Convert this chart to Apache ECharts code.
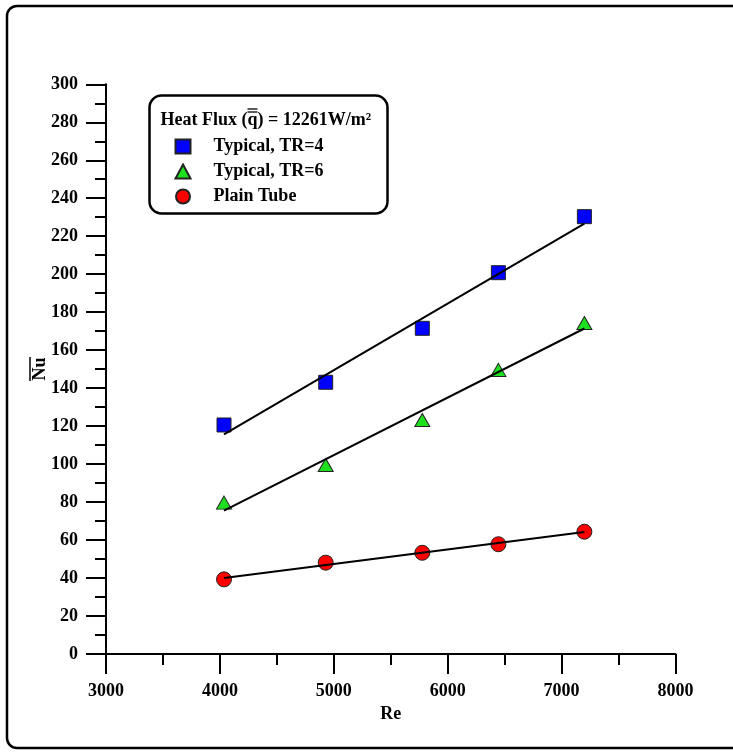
<!DOCTYPE html>
<html><head><meta charset="utf-8">
<script src="https://cdn.jsdelivr.net/npm/echarts@6/dist/echarts.min.js"></script>
<style>html,body{margin:0;padding:0;background:#fff}#c{width:733px;height:756px}</style>
</head><body><div id="c"></div>
<script>
// ---- data ----
const reValues = [4036, 4929, 5777, 6445, 7200];
const nuTR4 = [120.6, 143.1, 171.5, 200.8, 230.3];
const nuTR6 = [79.7, 99.5, 123.2, 149.6, 174.3];
const nuPlain = [39.3, 48.1, 53.3, 57.8, 64.4];
// fitted straight lines (end points)
const fitRe = [4036, 7200];
const fitTR4 = [115.7, 226.6];
const fitTR6 = [75.5, 171.4];
const fitPlain = [40.0, 64.2];
const seriesNames = ['Typical, TR=4', 'Typical, TR=6', 'Plain Tube'];
const xTickMin = 3000, xTickMax = 8000, xTickStep = 1000;
const yTickMin = 0, yTickMax = 300, yTickStep = 20;
const legendTitleParts = ['Heat Flux (', 'q', ') = 12261W/m\u00B2'];
const xName = 'Re', yName = 'Nu';

const FONT = '"Liberation Serif","Times New Roman",serif';
const pairs = (xs, ys) => xs.map((x, i) => [x, ys[i]]);

const ctx = document.createElement('canvas').getContext('2d');
ctx.font = 'bold 18px ' + FONT;
const w0 = ctx.measureText(legendTitleParts[0]).width;
const wq = ctx.measureText(legendTitleParts[1]).width;
const titleX = 160.5, titleY = 120;

const chart = echarts.init(document.getElementById('c'), null, {renderer: 'canvas'});
const axisCommon = {
  axisLine: {lineStyle: {color: '#000', width: 2}},
  axisTick: {length: 20, lineStyle: {color: '#000', width: 2}},
  minorTick: {show: true, splitNumber: 2, length: 11, lineStyle: {color: '#000', width: 2}},
  splitLine: {show: false},
  axisLabel: {color: '#000', fontFamily: FONT, fontWeight: 'bold', fontSize: 18, margin: 28,
    formatter: v => String(v)},
  nameTextStyle: {color: '#000', fontFamily: FONT, fontWeight: 'bold', fontSize: 18}
};
const sym = {
  rect: {symbol: 'rect', symbolSize: 14, color: '#0000ff'},
  tri: {symbol: 'triangle', symbolSize: [15, 13], color: '#1ee01e'},
  circ: {symbol: 'circle', symbolSize: 15, color: '#ff0000'}
};
function scatter(name, ys, s) {
  return {name, type: 'scatter', data: pairs(reValues, ys), symbol: s.symbol, symbolSize: s.symbolSize,
    itemStyle: {color: s.color, borderColor: '#222', borderWidth: 1, opacity: 1}, z: 2, silent: true};
}
function fit(ys) {
  return {type: 'line', data: pairs(fitRe, ys), symbol: 'none', lineStyle: {color: '#000', width: 2}, z: 3, silent: true};
}
chart.setOption({
  animation: false,
  backgroundColor: '#fff',
  grid: {left: 106, top: 84.3, right: 57.5, bottom: 102},
  xAxis: Object.assign({}, axisCommon, {type: 'value', min: xTickMin, max: xTickMax, interval: xTickStep,
    name: xName, nameLocation: 'middle', nameGap: 50}),
  yAxis: Object.assign({}, axisCommon, {type: 'value', min: yTickMin, max: yTickMax, interval: yTickStep}),
  legend: {
    data: seriesNames, orient: 'vertical', left: 174.5, top: 136.5, padding: 0,
    itemWidth: 15, itemHeight: 14, itemGap: 5,
    textStyle: {color: '#000', fontFamily: FONT, fontWeight: 'bold', fontSize: 18, lineHeight: 20, padding: [0, 0, 0, 18]},
    selectedMode: false
  },
  series: [
    scatter(seriesNames[0], nuTR4, sym.rect),
    scatter(seriesNames[1], nuTR6, sym.tri),
    scatter(seriesNames[2], nuPlain, sym.circ),
    fit(fitTR4), fit(fitTR6), fit(fitPlain)
  ],
  graphic: [
    {type: 'rect', shape: {x: 7, y: 6, width: 760, height: 742, r: 10}, style: {fill: 'none', stroke: '#000', lineWidth: 2.5}, silent: true, z: 0},
    {type: 'rect', shape: {x: 149.5, y: 95.5, width: 238, height: 118, r: 12}, style: {fill: 'none', stroke: '#000', lineWidth: 2.5}, silent: true},
    {type: 'text', x: titleX, y: titleY, style: {text: legendTitleParts.join(''), font: 'bold 18px ' + FONT, fill: '#000', textVerticalAlign: 'middle'}, silent: true},
    {type: 'line', shape: {x1: titleX + w0, y1: 109, x2: titleX + w0 + wq, y2: 109}, style: {stroke: '#000', lineWidth: 1.3}, silent: true},
    {type: 'line', shape: {x1: titleX + w0, y1: 112, x2: titleX + w0 + wq, y2: 112}, style: {stroke: '#000', lineWidth: 1.3}, silent: true},
    {type: 'group', x: 40, y: 369, rotation: Math.PI / 2, silent: true, children: [
      {type: 'text', x: 0, y: 0, style: {text: yName, font: 'bold 18px ' + FONT, fill: '#000', textAlign: 'center', textVerticalAlign: 'middle'}},
      {type: 'line', shape: {x1: -12, y1: -10, x2: 12, y2: -10}, style: {stroke: '#000', lineWidth: 1.5}}
    ]}
  ]
});
</script>
</body></html>
